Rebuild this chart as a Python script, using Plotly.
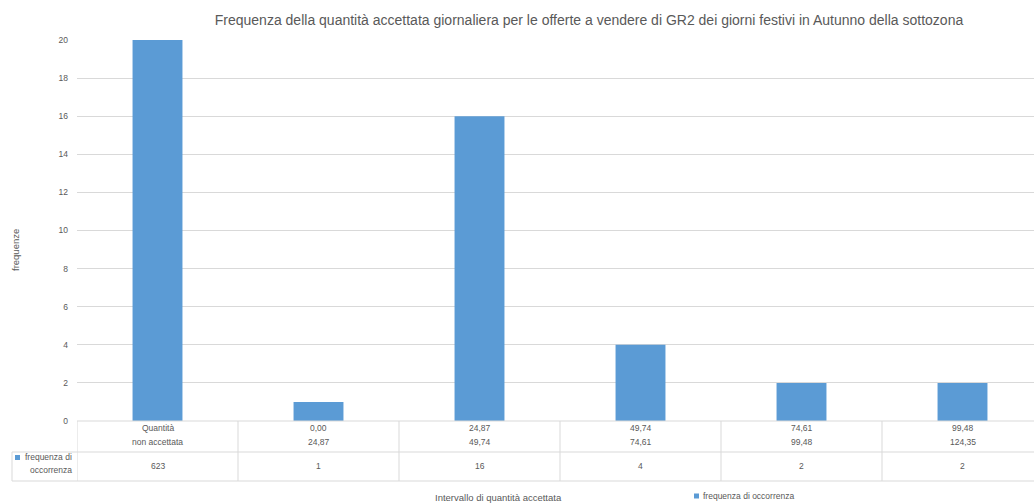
import plotly.graph_objects as go

title = "Frequenza della quantità accettata giornaliera per le offerte a vendere di GR2 dei giorni festivi in Autunno della sottozona"
cat_line1 = ["Quantità", "0,00", "24,87", "49,74", "74,61", "99,48"]
cat_line2 = ["non accettata", "24,87", "49,74", "74,61", "99,48", "124,35"]
frequenze = [623, 1, 16, 4, 2, 2]
series_name = "frequenza di occorrenza"
y_ticks = [0, 2, 4, 6, 8, 10, 12, 14, 16, 18, 20]

W, H = 1034, 504
ML, MR, MT, MB = 77, 0, 40, 83
PW, PH = W - ML - MR, H - MT - MB

def py(p):  # pixel y -> paper y
    return (H - MB - p) / PH

def px(p):  # pixel x -> paper x
    return (p - ML) / PW

BAR = "#5b9bd5"
GRID = "#d9d9d9"
TXT = "#595959"
FONT = "Liberation Sans"

xs = list(range(len(frequenze)))
fig = go.Figure()
fig.add_trace(go.Bar(x=xs, y=frequenze, width=0.31, marker=dict(color=BAR, line=dict(width=0)),
                     name=series_name, showlegend=False, hoverinfo="y"))

shapes = []
n = len(frequenze)
xmax = n - 0.5 - 9 / 161
# horizontal table lines
shapes.append(dict(type="line", xref="x", yref="paper", x0=-0.5, x1=n, y0=py(421), y1=py(421),
                   line=dict(color=GRID, width=1)))
for yy in (452, 481):
    shapes.append(dict(type="line", xref="paper", yref="paper", x0=px(12), x1=1.02, y0=py(yy), y1=py(yy),
                       line=dict(color=GRID, width=1)))
# vertical lines
shapes.append(dict(type="line", xref="x", yref="paper", x0=-0.5, x1=-0.5, y0=py(421), y1=py(481),
                   line=dict(color=GRID, width=1)))
shapes.append(dict(type="line", xref="paper", yref="paper", x0=px(12), x1=px(12), y0=py(452), y1=py(481),
                   line=dict(color=GRID, width=1)))
for i in range(n - 1):
    shapes.append(dict(type="line", xref="x", yref="paper", x0=i + 0.5, x1=i + 0.5, y0=py(421), y1=py(481),
                       line=dict(color=GRID, width=1)))
# legend key in table header
shapes.append(dict(type="rect", xref="paper", yref="paper", x0=px(15), x1=px(20), y0=py(460), y1=py(455),
                   fillcolor=BAR, line=dict(width=0)))
# legend key at bottom
shapes.append(dict(type="rect", xref="paper", yref="paper", x0=px(694), x1=px(699), y0=py(498.5), y1=py(493.5),
                   fillcolor=BAR, line=dict(width=0)))

ann = []
tf = dict(family=FONT, size=8.5, color=TXT)
M = dict(yanchor="middle", showarrow=False)
for i in xs:
    ann.append(dict(x=i, y=py(428), xref="x", yref="paper", xanchor="center", text=cat_line1[i], font=tf, **M))
    ann.append(dict(x=i, y=py(442), xref="x", yref="paper", xanchor="center", text=cat_line2[i], font=tf, **M))
    ann.append(dict(x=i, y=py(466), xref="x", yref="paper", xanchor="center", text=str(frequenze[i]), font=tf, **M))
ann.append(dict(x=px(74), y=py(457), xref="paper", yref="paper", xanchor="right", text="frequenza di",
                font=tf, **M))
ann.append(dict(x=px(74), y=py(470), xref="paper", yref="paper", xanchor="right", text="occorrenza",
                font=tf, **M))
ann.append(dict(x=px(701), y=py(496), xref="paper", yref="paper", xanchor="left", text=series_name,
                font=tf, **M))
ann.append(dict(x=px(498), y=py(497), xref="paper", yref="paper", xanchor="center",
                text="Intervallo di quantità accettata",
                font=dict(family=FONT, size=9.5, color=TXT), **M))
ann.append(dict(x=px(15), y=py(250), xref="paper", yref="paper", xanchor="center", text="frequenze",
                textangle=-90, font=dict(family=FONT, size=9.5, color=TXT), **M))

fig.update_layout(
    width=W, height=H,
    margin=dict(l=ML, r=MR, t=MT, b=MB, pad=0, autoexpand=False),
    paper_bgcolor="white", plot_bgcolor="white",
    title=dict(text=title, xref="container", x=589 / W, xanchor="center",
               y=1 - 20 / H, yanchor="middle",
               font=dict(family=FONT, size=14, color=TXT)),
    xaxis=dict(range=[-0.5, xmax], showticklabels=False, showgrid=False, zeroline=False, ticks="",
               fixedrange=True, automargin=False),
    yaxis=dict(range=[0, 20], tickvals=y_ticks, showgrid=True, gridcolor=GRID, gridwidth=1, zeroline=False,
               ticks="", tickfont=dict(family=FONT, size=8.5, color=TXT), ticklabelstandoff=8,
               automargin=False),
    shapes=shapes, annotations=ann, bargap=0.69, showlegend=False,
)
fig.write_html("out.html", config={"displayModeBar": False},
               post_script="document.body.style.margin='0';document.body.style.overflow='hidden';")
